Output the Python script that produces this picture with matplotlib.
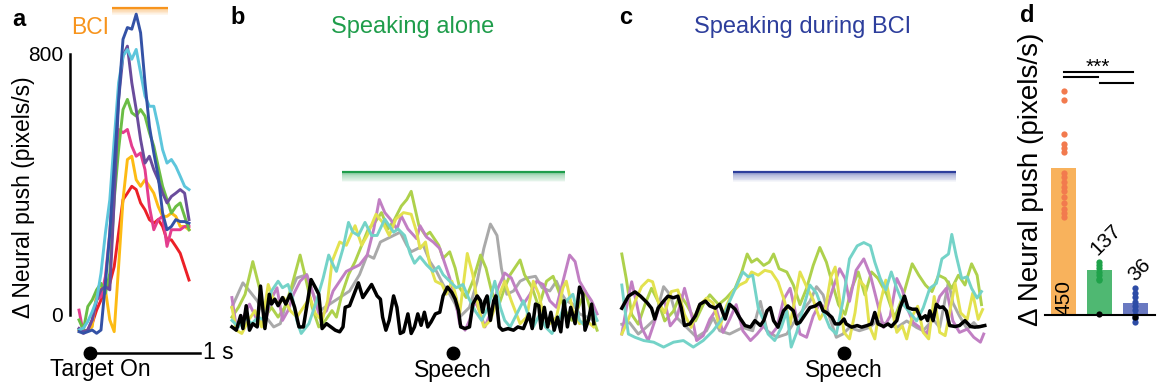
import numpy as np
import matplotlib.pyplot as plt

plt.rcParams['font.family'] = ['Liberation Sans', 'DejaVu Sans']

# ---- panel a: neural push around target onset (t in s, values in pixels/s)
a_t = [-0.10, -0.06, -0.02, 0.02, 0.06, 0.10, 0.14, 0.18, 0.22, 0.26, 0.30, 0.34, 0.38,
       0.42, 0.46, 0.50, 0.54, 0.58, 0.62, 0.66, 0.70, 0.74, 0.78, 0.82, 0.86, 0.90]
a_red = [-46, -51, -46, -26, 15, 46, 77, 97, 148, 251, 353, 373, 394, 384, 343, 322, 292,
         281, 292, 271, 230, 230, 210, 189, 148, 107]
a_yellow = [-46, -51, -46, -36, 66, 87, 77, -15, -51, 148, 353, 476, 486, 414, 394, 414,
            394, 373, 332, 302, 302, 312, 302, 271, 271, 261]
a_pink = [15, -56, -46, -15, 46, 56, 118, 251, 455, 568, 558, 568, 517, 486, 496, 445, 332,
          261, 292, 302, 210, 261, 261, 261, 271, 271]
a_green = [-15, -46, 26, 46, 77, 97, 66, 128, 353, 506, 629, 660, 619, 609, 629, 609, 558,
           517, 455, 394, 353, 312, 332, 343, 302, 261]
a_purple = [-41, -51, -46, -15, 46, 77, 87, 77, 353, 660, 793, 823, 711, 629, 537, 465, 486,
            445, 414, 373, 343, 363, 373, 384, 373, 292]
a_cyan = [-46, -40, -20, 10, 46, 128, 251, 353, 537, 711, 793, 813, 783, 813, 742, 670, 639,
          639, 578, 506, 465, 476, 455, 425, 394, 384]
a_blue = [-51, -56, -51, -46, -56, -46, 97, 251, 455, 660, 844, 880, 875, 921, 864, 711, 578,
          496, 425, 312, 261, 271, 292, 286, 286, 281]

# ---- panel b: speaking alone (t relative to speech, s)
b_gray_t = [-2.01, -1.91, -1.85, -1.78, -1.70, -1.63, -1.57, -1.51, -1.42, -1.33, -1.27, -1.21,
            -1.12, -1.03, -0.94, -0.85, -0.78, -0.72, -0.66, -0.60, -0.54, -0.48, -0.42, -0.38,
            -0.32, -0.27, -0.21, -0.15, -0.09, -0.03, 0.02, 0.06, 0.09, 0.15, 0.22, 0.28, 0.34,
            0.40, 0.44, 0.49, 0.55, 0.61, 0.67, 0.75, 0.81, 0.88, 0.94, 0.99, 1.03, 1.09, 1.15,
            1.22, 1.28]
b_gray_v = [100, 175, 150, 120, 70, 40, 50, 120, 190, 200, 140, 90, 110, 130, 150, 200, 260,
            250, 300, 310, 320, 330, 290, 270, 280, 290, 240, 210, 170, 140, 110, 70, 80, 100,
            180, 280, 355, 320, 220, 140, 150, 180, 190, 195, 160, 150, 180, 140, 120, 110, 80,
            70, 60]
b_lime_t = [-2.01, -1.95, -1.89, -1.82, -1.76, -1.71, -1.65, -1.59, -1.53, -1.47, -1.39, -1.34,
            -1.28, -1.22, -1.16, -1.10, -1.06, -1.01, -0.95, -0.89, -0.83, -0.77, -0.71, -0.65,
            -0.59, -0.53, -0.47, -0.42, -0.38, -0.31, -0.25, -0.21, -0.13, -0.09, -0.03, 0.02,
            0.06, 0.12, 0.18, 0.25, 0.30, 0.35, 0.41, 0.47, 0.52, 0.61, 0.65, 0.72, 0.78, 0.85,
            0.91, 0.96, 1.02, 1.08, 1.14, 1.20, 1.26, 1.31]
b_lime_v = [70, 100, 140, 240, 160, 70, 100, 70, 100, 160, 260, 190, 100, 40, 60, 90, 70, 140,
            200, 240, 290, 340, 360, 390, 340, 370, 410, 430, 455, 350, 320, 330, 290, 250, 270,
            220, 160, 130, 180, 260, 220, 150, 100, 160, 200, 245, 200, 160, 100, 180, 195, 150,
            90, 60, 100, 150, 80, 30]
b_magenta_t = [-2.01, -1.97, -1.92, -1.85, -1.78, -1.71, -1.66, -1.60, -1.55, -1.50, -1.45,
               -1.39, -1.33, -1.27, -1.21, -1.15, -1.09, -1.03, -0.97, -0.91, -0.85, -0.78,
               -0.72, -0.67, -0.62, -0.57, -0.51, -0.47, -0.41, -0.33, -0.30, -0.24, -0.18,
               -0.12, -0.07, -0.03, 0.02, 0.06, 0.11, 0.15, 0.20, 0.24, 0.29, 0.35, 0.41, 0.47,
               0.53, 0.58, 0.64, 0.70, 0.76, 0.82, 0.88, 0.94, 1.00, 1.06, 1.11, 1.15, 1.22,
               1.26, 1.31]
b_magenta_v = [130, 40, 60, 110, 60, 50, 120, 160, 60, 90, 140, 180, 200, 140, 70, 90, 150,
               180, 210, 220, 230, 260, 340, 430, 390, 370, 340, 380, 340, 310, 350, 315, 300,
               280, 230, 190, 130, 50, 30, 60, 120, 90, 40, 90, 160, 205, 190, 150, 110, 140,
               180, 170, 120, 100, 180, 260, 240, 180, 140, 120, 80]
b_yellow_t = [-2.01, -1.97, -1.92, -1.86, -1.80, -1.74, -1.68, -1.64, -1.58, -1.54, -1.48,
              -1.42, -1.36, -1.30, -1.25, -1.19, -1.14, -1.10, -1.03, -0.97, -0.89, -0.83,
              -0.78, -0.70, -0.64, -0.58, -0.52, -0.45, -0.38, -0.33, -0.30, -0.25, -0.21,
              -0.16, -0.10, -0.06, -0.01, 0.03, 0.06, 0.13, 0.18, 0.23, 0.28, 0.34, 0.40, 0.47,
              0.53, 0.61, 0.67, 0.73, 0.78, 0.82, 0.88, 0.94, 1.00, 1.03, 1.09, 1.15, 1.21, 1.28]
b_yellow_v = [100, 30, 20, 60, 90, 40, 170, 130, 110, 130, 90, 70, 100, 130, 80, 60, 120, 240,
              300, 290, 350, 290, 320, 385, 360, 320, 370, 390, 385, 330, 280, 300, 230, 180,
              170, 140, 180, 130, 80, 265, 200, 100, 40, 60, 120, 180, 120, 50, 70, 180, 140,
              80, 50, 70, 160, 180, 90, 50, 60, 40]
b_turq_t = [-2.01, -1.95, -1.89, -1.83, -1.77, -1.71, -1.65, -1.59, -1.55, -1.50, -1.46, -1.42,
            -1.38, -1.31, -1.24, -1.18, -1.13, -1.09, -1.06, -1.00, -0.95, -0.91, -0.86, -0.80,
            -0.74, -0.69, -0.62, -0.59, -0.54, -0.50, -0.44, -0.39, -0.35, -0.30, -0.24, -0.18,
            -0.13, -0.09, -0.03, 0.03, 0.09, 0.14, 0.20, 0.26, 0.32, 0.38, 0.43, 0.47, 0.52,
            0.58, 0.64, 0.69, 0.73, 0.79, 0.84, 0.90, 0.96, 1.03, 1.09, 1.15, 1.21, 1.26, 1.31]
b_turq_v = [60, 40, 70, 50, 70, 60, 150, 180, 160, 170, 130, 60, 20, 50, 120, 190, 260, 230,
            210, 280, 360, 330, 320, 360, 320, 320, 370, 355, 330, 340, 320, 265, 235, 255, 230,
            210, 225, 200, 180, 160, 170, 130, 90, 60, 100, 180, 100, 60, 40, 80, 120, 70, 40,
            80, 40, 20, 60, 120, 140, 60, 40, 100, 60]
b_black_t = [-2.01, -1.97, -1.93, -1.91, -1.88, -1.85, -1.82, -1.78, -1.75, -1.71, -1.67,
             -1.65, -1.62, -1.59, -1.55, -1.52, -1.48, -1.44, -1.40, -1.36, -1.29, -1.25,
             -1.22, -1.19, -1.15, -1.11, -1.07, -1.03, -1.00, -0.98, -0.94, -0.86, -0.82,
             -0.74, -0.69, -0.66, -0.64, -0.61, -0.58, -0.54, -0.51, -0.48, -0.45, -0.41,
             -0.38, -0.35, -0.32, -0.29, -0.26, -0.23, -0.20, -0.16, -0.12, -0.09, -0.05,
             -0.01, 0.02, 0.05, 0.07, 0.11, 0.15, 0.18, 0.22, 0.25, 0.27, 0.29, 0.31, 0.34,
             0.37, 0.39, 0.42, 0.45, 0.50, 0.55, 0.59, 0.64, 0.67, 0.69, 0.72, 0.75, 0.78, 0.80,
             0.83, 0.86, 0.89, 0.92, 0.95, 0.98, 1.01, 1.04, 1.07, 1.11, 1.15, 1.18, 1.20, 1.23,
             1.26, 1.28]
b_black_v = [40, 30, 75, 35, 105, 30, 50, 40, 165, 35, 140, 110, 125, 105, 130, 110, 140, 100,
             40, 40, 185, 160, 140, 35, 50, 40, 30, 25, 40, 100, 105, 175, 130, 170, 135, 125,
             70, 30, 60, 135, 100, 20, 25, 80, 20, 40, 80, 45, 85, 40, 55, 80, 85, 135, 162, 145,
             125, 90, 40, 35, 40, 110, 135, 120, 85, 120, 135, 60, 120, 135, 40, 30, 35, 30, 40,
             35, 60, 80, 35, 110, 105, 35, 100, 40, 85, 30, 70, 25, 120, 40, 100, 50, 162, 140,
             30, 60, 110, 50]

# ---- panel c: speaking during BCI
c_gray_t = [-2.02, -1.95, -1.87, -1.80, -1.72, -1.64, -1.58, -1.52, -1.43, -1.34, -1.25, -1.19,
            -1.13, -1.04, -0.92, -0.83, -0.76, -0.70, -0.61, -0.52, -0.43, -0.31, -0.25, -0.19,
            -0.13, -0.07, -0.01, 0.05, 0.14, 0.23, 0.30, 0.39, 0.48, 0.57, 0.66, 0.72, 0.81,
            0.87, 0.95, 0.99, 1.05, 1.12, 1.18, 1.22, 1.26]
c_gray_v = [85, 90, 55, 75, 100, 200, 175, 105, 75, 45, 65, 105, 65, 55, 75, 65, 155, 65, 45,
            55, 105, 155, 200, 175, 105, 45, 55, 75, 65, 75, 95, 85, 75, 95, 75, 65, 100, 75,
            215, 150, 110, 70, 90, 75, 80]
c_lime_t = [-2.02, -1.98, -1.93, -1.87, -1.81, -1.75, -1.69, -1.63, -1.55, -1.49, -1.43, -1.35,
            -1.28, -1.22, -1.14, -1.07, -0.99, -0.93, -0.88, -0.84, -0.79, -0.73, -0.68, -0.64,
            -0.59, -0.52, -0.46, -0.40, -0.34, -0.28, -0.22, -0.16, -0.11, -0.05, 0.01, 0.07,
            0.13, 0.19, 0.25, 0.31, 0.39, 0.46, 0.54, 0.62, 0.68, 0.74, 0.80, 0.86, 0.92, 0.98,
            1.04, 1.10, 1.16, 1.21, 1.25]
c_lime_v = [300, 225, 115, 85, 145, 195, 155, 95, 125, 175, 145, 95, 145, 175, 145, 165, 195,
            245, 300, 275, 285, 265, 275, 300, 255, 245, 205, 145, 195, 265, 320, 275, 215,
            145, 115, 195, 245, 175, 245, 225, 175, 105, 175, 270, 235, 205, 185, 235, 225,
            195, 235, 205, 270, 235, 145]
c_magenta_t = [-2.02, -1.97, -1.93, -1.88, -1.84, -1.78, -1.72, -1.67, -1.63, -1.58, -1.52,
               -1.45, -1.38, -1.34, -1.28, -1.22, -1.16, -1.10, -1.04, -0.98, -0.92, -0.85,
               -0.79, -0.73, -0.67, -0.61, -0.55, -0.49, -0.45, -0.40, -0.34, -0.28, -0.22,
               -0.16, -0.10, -0.04, 0.01, 0.05, 0.11, 0.18, 0.24, 0.30, 0.36, 0.42, 0.48, 0.53,
               0.58, 0.63, 0.69, 0.75, 0.81, 0.87, 0.93, 0.99, 1.05, 1.12, 1.18, 1.24, 1.27]
c_magenta_v = [55, 150, 215, 140, 75, 35, 95, 150, 155, 80, 105, 195, 105, 35, 50, 100, 130,
               60, 100, 145, 65, 35, 55, 80, 50, 75, 160, 195, 135, 55, 45, 110, 150, 130, 195,
               255, 225, 155, 250, 285, 235, 155, 75, 110, 225, 190, 130, 90, 75, 55, 110, 170,
               195, 95, 60, 70, 45, 30, 55]
c_yellow_t = [-2.02, -1.96, -1.90, -1.84, -1.78, -1.74, -1.69, -1.63, -1.57, -1.51, -1.45,
              -1.39, -1.32, -1.25, -1.19, -1.13, -1.07, -1.01, -0.95, -0.89, -0.84, -0.78,
              -0.72, -0.66, -0.60, -0.54, -0.49, -0.45, -0.40, -0.34, -0.28, -0.22, -0.17,
              -0.12, -0.08, -0.04, 0.00, 0.05, 0.10, 0.14, 0.19, 0.23, 0.28, 0.33, 0.38, 0.43,
              0.48, 0.53, 0.57, 0.62, 0.67, 0.72, 0.77, 0.82, 0.87, 0.92, 0.96, 1.01, 1.06,
              1.12, 1.17, 1.22, 1.26]
c_yellow_v = [55, 100, 155, 200, 220, 215, 155, 120, 185, 190, 115, 75, 140, 165, 150, 75, 140,
              185, 205, 215, 245, 235, 250, 245, 215, 155, 85, 155, 245, 200, 160, 100, 130,
              230, 260, 160, 60, 40, 120, 220, 200, 80, 40, 150, 220, 140, 60, 80, 40, 110, 140,
              60, 40, 170, 60, 50, 120, 210, 120, 100, 180, 100, 130]
c_turq_t = [-2.02, -1.99, -1.96, -1.90, -1.82, -1.73, -1.64, -1.55, -1.46, -1.37, -1.28, -1.19,
            -1.10, -1.04, -0.98, -0.92, -0.87, -0.83, -0.78, -0.73, -0.69, -0.63, -0.57, -0.52,
            -0.48, -0.43, -0.37, -0.31, -0.25, -0.19, -0.13, -0.07, -0.01, 0.05, 0.12, 0.18,
            0.24, 0.28, 0.33, 0.38, 0.43, 0.48, 0.54, 0.60, 0.66, 0.72, 0.78, 0.84, 0.89, 0.95,
            0.98, 1.02, 1.07, 1.12, 1.16, 1.21, 1.25]
c_turq_v = [205, 125, 55, 45, 35, 30, 15, 30, 35, 15, 35, 65, 105, 155, 200, 245, 230, 235,
            135, 95, 55, 35, 75, 125, 15, 60, 135, 205, 180, 125, 75, 55, 155, 285, 325, 335,
            325, 275, 225, 190, 245, 195, 145, 120, 95, 135, 195, 210, 285, 300, 360, 295, 225,
            230, 195, 165, 185]
c_black_t = [-2.02, -1.96, -1.90, -1.85, -1.79, -1.75, -1.72, -1.69, -1.64, -1.60, -1.55,
             -1.51, -1.48, -1.45, -1.40, -1.35, -1.31, -1.26, -1.22, -1.17, -1.13, -1.08,
             -1.04, -0.99, -0.95, -0.90, -0.85, -0.81, -0.76, -0.73, -0.70, -0.67, -0.64,
             -0.60, -0.55, -0.51, -0.46, -0.43, -0.40, -0.35, -0.31, -0.26, -0.22, -0.19,
             -0.16, -0.11, -0.08, -0.04, 0.00, 0.02, 0.07, 0.12, 0.16, 0.21, 0.25, 0.28, 0.31,
             0.36, 0.40, 0.43, 0.48, 0.51, 0.55, 0.58, 0.62, 0.66, 0.70, 0.74, 0.76, 0.78, 0.81,
             0.84, 0.87, 0.90, 0.93, 0.96, 1.01, 1.05, 1.10, 1.15, 1.19, 1.24, 1.28]
c_black_v = [134, 171, 184, 171, 151, 134, 101, 134, 156, 171, 166, 171, 136, 81, 86, 111, 146,
             156, 141, 134, 146, 101, 146, 131, 106, 81, 76, 96, 81, 96, 126, 136, 96, 76, 126,
             141, 126, 86, 91, 116, 136, 141, 151, 126, 121, 106, 86, 86, 101, 86, 76, 81, 76,
             81, 86, 121, 86, 78, 86, 78, 96, 136, 171, 136, 131, 131, 101, 111, 96, 126, 96,
             146, 136, 138, 126, 81, 78, 81, 96, 78, 76, 78, 81]

# ---- panel d: summary bars
d_means = [450, 137, 36]
d_labels = ['450', '137', '36']
d_bci_dots = [687, 658, 554, 523, 510, 500, 434, 423, 408, 393, 380, 362, 342, 326, 313, 301]
d_alone_dots = [163, 153, 143, 133, 122, 112, 107]
d_during_dots = [82, 68, 56, 41, 28, 15, 0, -10, -20]
d_ref_dots = [3, -5]

W, H = 1157, 391
fig = plt.figure(figsize=(W / 100, H / 100), dpi=100)


def px_axes(left, top, right, bottom):
    ax = fig.add_axes([left / W, 1 - bottom / H, (right - left) / W, (bottom - top) / H])
    ax.patch.set_visible(False)
    for s in ax.spines.values():
        s.set_visible(False)
    ax.set_xticks([])
    ax.set_yticks([])
    return ax


def gradient_bar(ax, x0, x1, top, depth, color):
    ax.plot([x0, x1], [top, top], color=color, lw=1.6, solid_capstyle='butt')
    n = 12
    for i in range(n):
        ax.fill_between([x0, x1], top - depth * i / n, top - depth * (i + 1) / n,
                        color=color, alpha=0.5 * (1 - i / n), lw=0)


FS = 16.5

# ---------------- panel a
ax = px_axes(57, 1.4, 244, 364)
ax.set_xlim(-0.3, 1.4)
ax.set_ylim(-150, 960)
a_series = [(a_red, '#ec2027'), (a_yellow, '#fdbb14'), (a_pink, '#e43d8e'),
            (a_green, '#6bbd45'), (a_purple, '#6a4c9c'), (a_cyan, '#5dc6dc'),
            (a_blue, '#3452a6')]
for vals, col in a_series:
    ax.plot(a_t, vals, color=col, lw=2.1, solid_joinstyle='round')
ax.spines['left'].set_visible(True)
ax.spines['left'].set_position(('data', -0.18))
ax.spines['left'].set_bounds(0, 800)
ax.spines['left'].set_linewidth(1.8)
ax.set_yticks([0, 800])
ax.tick_params(axis='y', length=0, pad=5, labelsize=15)
ax.set_ylabel('Δ Neural push (pixels/s)', fontsize=FS)
ax.yaxis.set_label_coords(-0.118, 0.46)
# time scale bar
ax.plot([0, 1], [-116, -116], color='black', lw=1.8, clip_on=False)
ax.plot(0, -116, 'o', color='black', ms=9, clip_on=False)
ax.text(1.03, -116, '1 s', fontsize=FS, va='center', ha='left')
ax.text(0.09, -168, 'Target On', fontsize=FS, va='center', ha='center')
gradient_bar(ax, 0.2, 0.71, 940, 22, '#f7941d')
ax.text(0.0, 881, 'BCI', color='#f7941d', fontsize=16.5, ha='center', va='center')
fig.text(19 / W, 1 - 19 / H, 'a', fontsize=17, fontweight='bold', ha='center', va='center')

# ---------------- panels b, c
b_series = [(b_gray_t, b_gray_v, '#a9a9a9'), (b_lime_t, b_lime_v, '#aed14c'),
            (b_magenta_t, b_magenta_v, '#c17fc3'), (b_yellow_t, b_yellow_v, '#e3e24f'),
            (b_turq_t, b_turq_v, '#74d3c8')]
c_series = [(c_gray_t, c_gray_v, '#a9a9a9'), (c_lime_t, c_lime_v, '#aed14c'),
            (c_magenta_t, c_magenta_v, '#c17fc3'), (c_yellow_t, c_yellow_v, '#e3e24f'),
            (c_turq_t, c_turq_v, '#74d3c8')]

panels = [
    (219.8, (-61.2, 551), b_series, b_black_t, b_black_v, 514, '#1f9d4b',
     'Speaking alone', 413, 'b', 238),
    (610.8, (-24.5, 587.7), c_series, c_black_t, c_black_v, 551, '#2d3e9c',
     'Speaking during BCI', 803, 'c', 626),
]
for left, ylim, series, bk_t, bk_v, bar_top, tcol, title, tx, letter, lx in panels:
    ax = px_axes(left, 160, left + 385, 360)
    ax.set_xlim(-2.12, 1.38)
    ax.set_ylim(*ylim)
    for tt, vv, col in series:
        ax.plot(tt, vv, color=col, lw=2.1, solid_joinstyle='round')
    ax.plot(bk_t, bk_v, color='black', lw=2.5, solid_joinstyle='round')
    gradient_bar(ax, -1.01, 1.02, bar_top, 31, tcol)
    tr = ax.get_xaxis_transform()
    ax.plot(0, 0.035, 'o', color='black', ms=9, transform=tr, clip_on=False)
    ax.text(0, -0.055, 'Speech', fontsize=FS, ha='center', va='center', transform=tr)
    fig.text(tx / W, 1 - 27 / H, title, color=tcol, fontsize=17, ha='center', va='center')
    fig.text(lx / W, 1 - 18 / H, letter, fontsize=17, fontweight='bold',
             ha='center', va='center')

# ---------------- panel d
ax = px_axes(1045, 1.4, 1155, 338)
ax.set_xlim(-0.52, 2.56)
ax.set_ylim(-70, 960)
ax.bar([0, 1, 2], d_means, width=0.7, color=['#f8b25c', '#4fb872', '#6a79c1'], zorder=1)
for i, (dots, col) in enumerate([(d_bci_dots, '#f27a4e'), (d_alone_dots, '#1fa24a'),
                                 (d_during_dots, '#2d4ca6')]):
    ax.plot(np.full(len(dots), i), dots, 'o', color=col, ms=4.5, mew=0, zorder=2)
ax.plot([1, 2], d_ref_dots, 'o', color='black', ms=4.5, mew=0, zorder=3)
ax.spines['bottom'].set_visible(True)
ax.spines['bottom'].set_position(('data', 0))
ax.spines['bottom'].set_linewidth(1.5)
ax.text(0, 55, d_labels[0], rotation=90, fontsize=15, ha='center', va='center')
ax.text(1.18, 230, d_labels[1], rotation=45, fontsize=15, ha='center', va='center')
ax.text(2.14, 138, d_labels[2], rotation=45, fontsize=15, ha='center', va='center')
ax.plot([0, 1.95], [745, 745], color='black', lw=1.5)
ax.plot([0, 0.97], [728, 728], color='black', lw=1.5)
ax.plot([1.03, 1.95], [709, 709], color='black', lw=1.5)
ax.text(0.97, 728, '***', fontsize=15, ha='center', va='bottom')
ax.set_ylabel('Δ Neural push (pixels/s)', fontsize=20)
ax.yaxis.set_label_coords(-0.005, 0.47)
fig.text(1027 / W, 1 - 15 / H, 'd', fontsize=17, fontweight='bold', ha='center', va='center')

fig.savefig('out.png', dpi=100)
